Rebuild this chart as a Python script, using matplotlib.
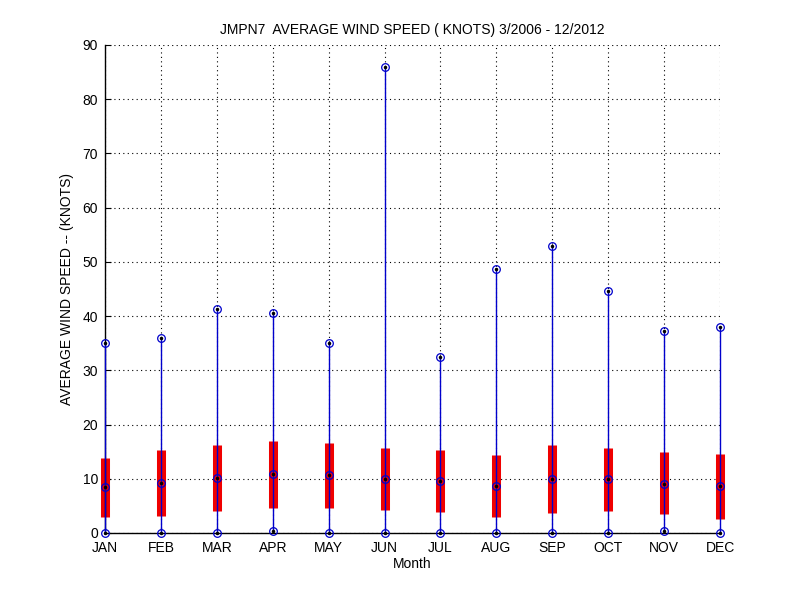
import numpy as np
import matplotlib.pyplot as plt

plt.rcParams['font.family'] = ['Liberation Sans', 'DejaVu Sans']

# Monthly statistics (knots)
months = ["JAN", "FEB", "MAR", "APR", "MAY", "JUN",
          "JUL", "AUG", "SEP", "OCT", "NOV", "DEC"]
max_speed = [35.1, 35.9, 41.4, 40.5, 35.0, 86.0, 32.4, 48.7, 53.0, 44.6, 37.2, 38.0]
min_speed = [0.0, 0.0, 0.0, 0.3, 0.0, 0.0, 0.0, 0.0, 0.0, 0.0, 0.3, 0.0]
box_top = [13.9, 15.3, 16.2, 16.9, 16.6, 15.7, 15.3, 14.4, 16.2, 15.7, 14.9, 14.5]
box_bottom = [2.9, 3.2, 4.1, 4.6, 4.6, 4.3, 3.9, 3.0, 3.7, 4.0, 3.5, 2.6]
mean_speed = [8.4, 9.3, 10.1, 10.9, 10.7, 10.0, 9.5, 8.6, 9.9, 10.0, 9.1, 8.6]

x = np.arange(1, len(months) + 1)

fig = plt.figure(figsize=(8, 6), dpi=100)
ax = fig.add_axes([0.13125, 0.1117, 0.76875, 0.8133])

# red boxes (drawn as thick vertical lines)
ax.vlines(x, box_bottom, box_top, colors='#f00000', linewidth=6.5,
          zorder=2, clip_on=False)
# blue whiskers from min to max
ax.vlines(x, min_speed, max_speed, colors='#0000cc', linewidth=1.0,
          zorder=3, clip_on=False)

for vals in (max_speed, min_speed, mean_speed):
    ax.plot(x, vals, linestyle='none', marker='o', markersize=5.5,
            markerfacecolor='none', markeredgecolor='#0000cc',
            markeredgewidth=0.9, zorder=4, clip_on=False)
    ax.plot(x, vals, linestyle='none', marker='.', markersize=3,
            color='black', zorder=5, clip_on=False)

ax.set_xlim(1, 12)
ax.set_ylim(0, 90)
ax.set_xticks(x)
ax.set_xticklabels(months)
ax.set_yticks(np.arange(0, 91, 10))

ax.grid(True, linestyle=(0, (1, 3)), color='black', linewidth=0.8)
ax.set_axisbelow(True)
for side in ('top', 'right'):
    ax.spines[side].set_visible(False)
for side in ('left', 'bottom'):
    ax.spines[side].set_linewidth(1.0)

ax.tick_params(direction='in', length=4, labelsize=10)
ax.tick_params(axis='x', pad=6)
ax.tick_params(axis='y', pad=5)

ax.set_title("JMPN7  AVERAGE WIND SPEED ( KNOTS) 3/2006 - 12/2012",
             fontsize=10, pad=8)
ax.set_xlabel("Month", fontsize=10, labelpad=1)
ax.set_ylabel("AVERAGE WIND SPEED -- (KNOTS)", fontsize=10, labelpad=6)

fig.savefig("out.png", dpi=100)
